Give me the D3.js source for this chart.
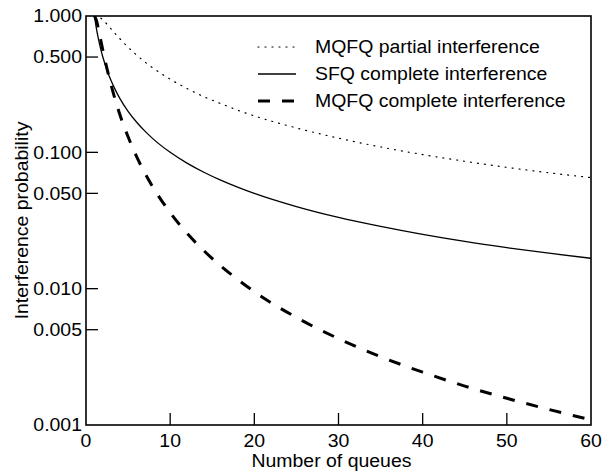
<!DOCTYPE html>
<html>
<head>
<meta charset="utf-8">
<script src="https://cdn.jsdelivr.net/npm/d3@7"></script>
<style>
  body { margin: 0; background: #fff; }
  text { font-family: 'Liberation Sans', Arial, sans-serif; fill: #000; }
</style>
</head>
<body>
<svg id="chart" width="611" height="471"></svg>
<script>
// number of queues sampled along each curve
const queues = [1, 1.25, 1.5, 1.75, 2, 2.5, 3, 3.5, 4, 5, 6, 7, 8, 10, 12, 14, 16, 18, 20, 25, 30, 35, 40, 45, 50, 55, 60];

// values
const mqfqPartial = [1, 0.998, 0.988, 0.966, 0.938, 0.870, 0.802, 0.740, 0.684, 0.590, 0.518, 0.460, 0.414, 0.344,
  0.294, 0.256, 0.228, 0.204, 0.185, 0.151, 0.127, 0.1095, 0.0963, 0.0860, 0.0776, 0.0708, 0.0653];
const sfqComplete = [1, 0.8, 0.667, 0.571, 0.5, 0.4, 0.333, 0.286, 0.25, 0.2, 0.167, 0.143, 0.125, 0.1,
  0.0833, 0.0714, 0.0625, 0.0556, 0.05, 0.04, 0.0333, 0.0286, 0.025, 0.0222, 0.02, 0.0182, 0.0167];
const mqfqComplete = [1, 0.922, 0.790, 0.666, 0.5625, 0.41, 0.309, 0.24, 0.191, 0.130, 0.0934, 0.0704, 0.0549, 0.0361,
  0.0255, 0.019, 0.0147, 0.0117, 0.0095, 0.00615, 0.0043, 0.00317, 0.00244, 0.00193, 0.00157, 0.0013, 0.00109];

const seriesNames = ['MQFQ partial interference', 'SFQ complete interference', 'MQFQ complete interference'];
const yTicks = [1, 0.5, 0.1, 0.05, 0.01, 0.005, 0.001];
const xTicks = [0, 10, 20, 30, 40, 50, 60];

const styles = [
  { width: 1.2, dash: '1,6', cap: 'round' },
  { width: 1.3, dash: null, cap: 'butt' },
  { width: 3, dash: '12,12', cap: 'butt' },
];

const plotLeft = 86;
const plotRight = 591;
const plotTop = 16;
const plotBottom = 425;
const stretch = 1.08; // the source fonts are a little wider than Liberation Sans

const svg = d3.select('#chart');

const x = d3.scaleLinear().domain([0, 60]).range([plotLeft, plotRight]);
const y = d3.scaleLog().domain([0.001, 1]).range([plotBottom, plotTop]);

// widen text horizontally to match the reference
function widen(sel) {
  sel.each(function () {
    const len = this.getComputedTextLength();
    d3.select(this).attr('textLength', len * stretch).attr('lengthAdjust', 'spacingAndGlyphs');
  });
}

svg.append('clipPath').attr('id', 'clip')
  .append('rect')
  .attr('x', plotLeft).attr('y', plotTop)
  .attr('width', plotRight - plotLeft).attr('height', plotBottom - plotTop);

// curves
const lineGen = d3.line()
  .x(d => x(d[0]))
  .y(d => y(d[1]))
  .curve(d3.curveMonotoneX);

[mqfqPartial, sfqComplete, mqfqComplete].forEach((vals, i) => {
  svg.append('path')
    .datum(queues.map((q, j) => [q, vals[j]]))
    .attr('clip-path', 'url(#clip)')
    .attr('fill', 'none')
    .attr('stroke', '#000')
    .attr('stroke-width', styles[i].width)
    .attr('stroke-dasharray', styles[i].dash)
    .attr('stroke-linecap', styles[i].cap)
    .attr('d', lineGen);
});

// ticks point inward
const tickLen = 12;
svg.append('g').selectAll('line')
  .data(yTicks.slice(1, -1))
  .enter().append('line')
  .attr('x1', plotLeft).attr('x2', plotLeft + tickLen)
  .attr('y1', d => y(d)).attr('y2', d => y(d))
  .attr('stroke', '#000').attr('stroke-width', 1.3);

svg.append('g').selectAll('line')
  .data(xTicks.slice(1, -1))
  .enter().append('line')
  .attr('x1', d => x(d)).attr('x2', d => x(d))
  .attr('y1', plotBottom).attr('y2', plotBottom - tickLen)
  .attr('stroke', '#000').attr('stroke-width', 1.3);

// frame
svg.append('rect')
  .attr('x', plotLeft).attr('y', plotTop)
  .attr('width', plotRight - plotLeft).attr('height', plotBottom - plotTop)
  .attr('fill', 'none')
  .attr('stroke', '#000')
  .attr('stroke-width', 1.6);

const fmt = d3.format('.3f');

svg.append('g').selectAll('text')
  .data(yTicks)
  .enter().append('text')
  .attr('x', plotLeft - 4)
  .attr('y', d => y(d))
  .attr('dy', '0.35em')
  .attr('text-anchor', 'end')
  .attr('font-size', 18)
  .text(fmt)
  .call(widen);

svg.append('g').selectAll('text')
  .data(xTicks)
  .enter().append('text')
  .attr('x', d => x(d))
  .attr('y', 447)
  .attr('text-anchor', 'middle')
  .attr('font-size', 18)
  .text(d => d)
  .call(widen);

svg.append('text')
  .attr('x', (plotLeft + plotRight) / 2 - 7)
  .attr('y', 467)
  .attr('text-anchor', 'middle')
  .attr('font-size', 18)
  .text('Number of queues')
  .call(widen);

svg.append('text')
  .attr('transform', `translate(28,${(plotTop + plotBottom) / 2}) rotate(-90)`)
  .attr('text-anchor', 'middle')
  .attr('font-size', 18)
  .text('Interference probability')
  .call(widen);

// legend
const legend = svg.append('g');
const rowY = [47, 74, 101];
seriesNames.forEach((name, i) => {
  legend.append('line')
    .attr('x1', 258).attr('x2', 296)
    .attr('y1', rowY[i]).attr('y2', rowY[i])
    .attr('stroke', '#000')
    .attr('stroke-width', styles[i].width)
    .attr('stroke-dasharray', styles[i].dash)
    .attr('stroke-linecap', styles[i].cap);
  legend.append('text')
    .attr('x', 315)
    .attr('y', rowY[i])
    .attr('dy', '0.35em')
    .attr('font-size', 18)
    .text(name)
    .call(widen);
});
</script>
</body>
</html>
